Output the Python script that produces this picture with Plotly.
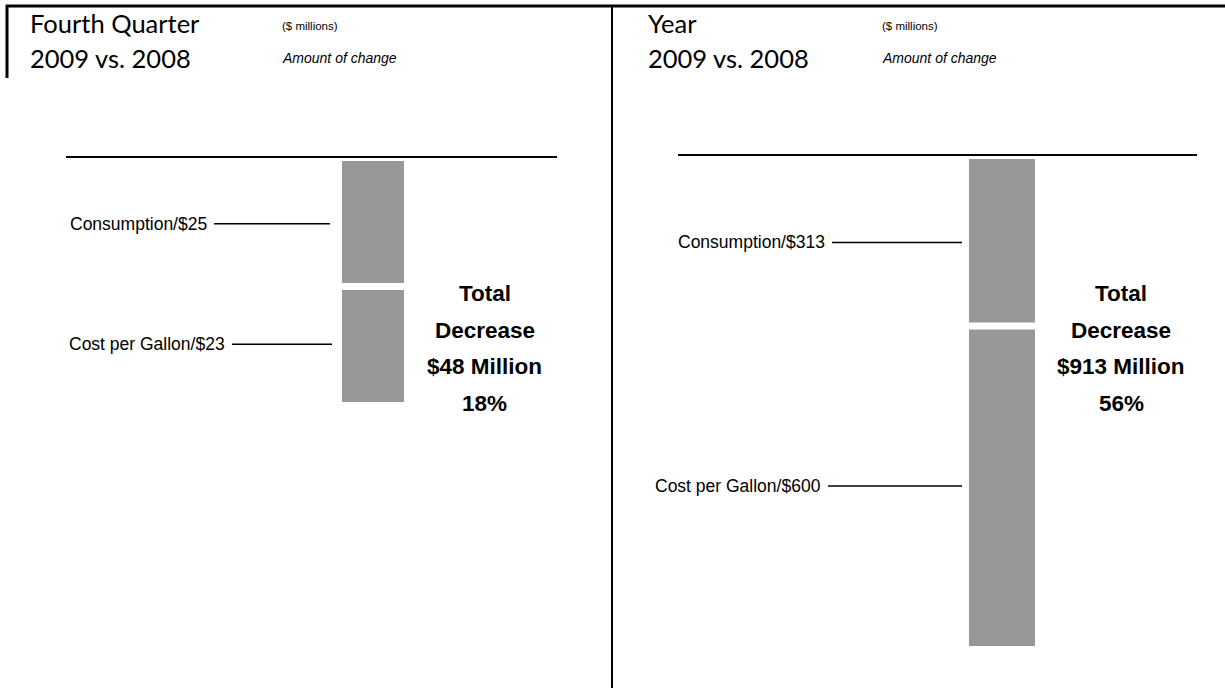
import plotly.graph_objects as go

W, H = 1225, 688

# ---- data ($ millions, amount of change 2009 vs. 2008) ----
periods = ["Fourth Quarter", "Year"]
components = ["Consumption", "Cost per Gallon"]
quarter_change = [25, 23]
year_change = [313, 600]
pct_change = ["18%", "56%"]

values_by_period = [quarter_change, year_change]

BAR_COLOR = "#989898"
NARROW = "Liberation Sans, Arial, sans-serif"
HEAD = "Lato, Open Sans, sans-serif"


def px(x):
    return x / W


def py(y):
    return 1 - y / H


# pixel geometry of each panel
geo = [
    dict(bar=(342, 404), top=161, bottom=402, rule=(66, 557, 157),
         lead_start=[214, 232], lead_end=[330, 332], total_x=485,
         head_x=28, note_x=280),
    dict(bar=(969, 1035), top=159, bottom=646, rule=(678, 1197, 155),
         lead_start=[832, 828], lead_end=[962, 962], total_x=1121,
         head_x=646, note_x=880),
]
total_rows_y = [293, 330, 367, 403]

fig = go.Figure()
annotations = []
shapes = []

for i, (period, vals, g) in enumerate(zip(periods, values_by_period, geo)):
    xa = "x" if i == 0 else f"x{i + 1}"
    ya = "y" if i == 0 else f"y{i + 1}"
    total = sum(vals)

    # stacked decrease bar, hanging down from the zero rule
    for comp, v in zip(components, vals):
        fig.add_trace(go.Bar(
            x=[0], y=[v], width=1, xaxis=xa, yaxis=ya,
            marker=dict(color=BAR_COLOR, line=dict(width=0)),
            name=comp, showlegend=False, hoverinfo="skip",
        ))

    axis_x = dict(domain=[px(g["bar"][0]), px(g["bar"][1])], range=[-0.5, 0.5],
                  visible=False, fixedrange=True)
    axis_y = dict(domain=[py(g["bottom"]), py(g["top"])], range=[total, 0],
                  visible=False, fixedrange=True)
    if i == 0:
        fig.update_layout(xaxis=axis_x, yaxis=axis_y)
    else:
        axis_x["anchor"] = ya
        axis_y["anchor"] = xa
        fig.update_layout(**{f"xaxis{i + 1}": axis_x, f"yaxis{i + 1}": axis_y})

    # zero rule
    shapes.append(dict(type="line", xref="paper", yref="paper",
                       x0=px(g["rule"][0]), x1=px(g["rule"][1]),
                       y0=py(g["rule"][2]), y1=py(g["rule"][2]),
                       line=dict(color="black", width=2), layer="above"))

    # white gap between the two stacked segments
    shapes.append(dict(type="rect", xref=xa, yref=ya, x0=-0.6, x1=0.6,
                       ysizemode="pixel", yanchor=vals[0], y0=-3.5, y1=3.5,
                       fillcolor="white", line=dict(width=0), layer="above"))

    # component labels with leader lines to segment centres
    cum = 0
    for k, (comp, v) in enumerate(zip(components, vals)):
        mid = cum + v / 2
        cum += v
        shapes.append(dict(type="line", xref="paper", yref=ya,
                           x0=px(g["lead_start"][k]), x1=px(g["lead_end"][k]),
                           y0=mid, y1=mid, line=dict(color="black", width=1.5)))
        annotations.append(dict(
            text=f"{comp}/${v}", xref="paper", yref=ya,
            x=px(g["lead_start"][k] - 5), y=mid, xanchor="right", yanchor="middle",
            showarrow=False, font=dict(family=NARROW, size=17.5, color="black")))

    # total callout, one row at a time
    rows = ["Total", "Decrease", f"${total} Million", pct_change[i]]
    for row, ry in zip(rows, total_rows_y):
        annotations.append(dict(
            text=row, xref="paper", yref="paper", x=px(g["total_x"]), y=py(ry),
            xanchor="center", yanchor="middle", align="center", showarrow=False,
            font=dict(family=NARROW, size=22.5, color="black", weight=700)))

    # headings
    annotations.append(dict(
        text=period, xref="paper", yref="paper", x=px(g["head_x"]), y=py(23),
        xanchor="left", yanchor="middle", showarrow=False,
        font=dict(family=HEAD, size=25.5, color="black")))
    annotations.append(dict(
        text="2009 vs. 2008", xref="paper", yref="paper", x=px(g["head_x"]), y=py(58),
        xanchor="left", yanchor="middle", showarrow=False,
        font=dict(family=HEAD, size=25.5, color="black")))
    annotations.append(dict(
        text="($ millions)", xref="paper", yref="paper", x=px(g["note_x"]), y=py(26),
        xanchor="left", yanchor="middle", showarrow=False,
        font=dict(family=NARROW, size=11.5, color="black")))
    annotations.append(dict(
        text="<i>Amount of change</i>", xref="paper", yref="paper", x=px(g["note_x"]),
        y=py(58), xanchor="left", yanchor="middle", showarrow=False,
        font=dict(family=NARROW, size=14, color="black")))

# frame: top border, left stub, centre divider
shapes += [
    dict(type="line", xref="paper", yref="paper", x0=px(6), x1=1.0,
         y0=py(6), y1=py(6), line=dict(color="black", width=3)),
    dict(type="line", xref="paper", yref="paper", x0=px(7), x1=px(7),
         y0=py(5), y1=py(78), line=dict(color="black", width=3)),
    dict(type="line", xref="paper", yref="paper", x0=px(612), x1=px(612),
         y0=py(5), y1=0.0, line=dict(color="black", width=2)),
]

fig.update_layout(
    width=W, height=H, margin=dict(l=0, r=0, t=0, b=0),
    paper_bgcolor="white", plot_bgcolor="white",
    barmode="stack", bargap=0,
    annotations=annotations, shapes=shapes,
)

fig.write_html("out.html", config={"displayModeBar": False})
